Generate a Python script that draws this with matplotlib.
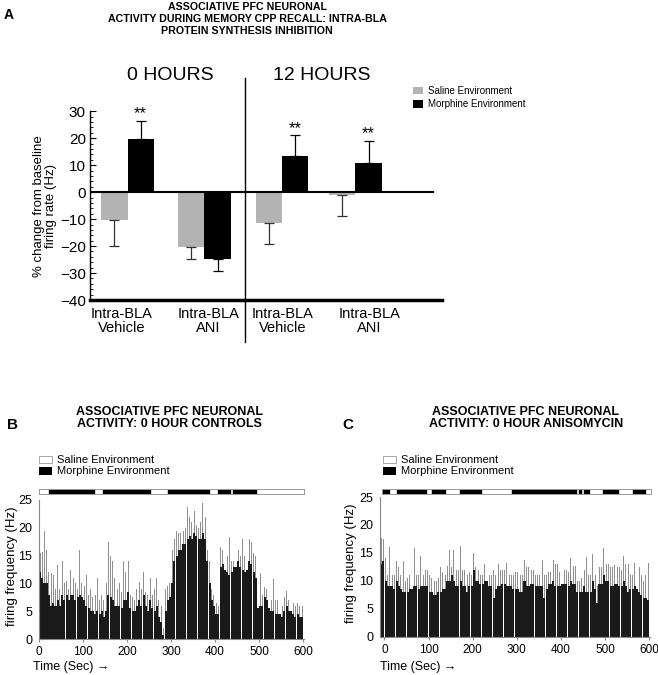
import numpy as np
import matplotlib
matplotlib.use('Agg')
import matplotlib.pyplot as plt
from matplotlib.patches import Rectangle
from matplotlib.lines import Line2D

W, H = 658, 675
plt.rcParams['font.family'] = ['Liberation Sans Narrow', 'Liberation Sans', 'DejaVu Sans']

# ---- panel A: % change from baseline firing rate
groups = ['Intra-BLA\nVehicle', 'Intra-BLA\nANI', 'Intra-BLA\nVehicle', 'Intra-BLA\nANI']
saline_mean = [-10.5, -20.4, -11.4, -0.9]
saline_err = [9.5, 4.3, 7.9, 8.1]
morphine_mean = [19.8, -24.8, 13.6, 10.7]
morphine_err = [6.7, 4.4, 7.5, 8.4]
signif = ['**', '', '**', '**']

# ---- panel B: 0 hour controls, 5 s bins
b_time = np.arange(0, 600, 5)
b_peak = [15.5, 15.7, 19.5, 16, 12, 11.8, 11.5, 9, 13.3, 9,
          14, 10, 10.5, 9, 12.5, 11, 10, 9, 16, 10,
          9.5, 11.5, 8, 9, 7.5, 8, 11, 7, 8, 7,
          10, 17.5, 15, 14, 11, 9, 10, 8.5, 14, 12,
          14, 8, 7.5, 7, 9, 10.3, 9, 12, 8.5, 8,
          11, 8, 9, 11, 7, 6, 2, 9, 9.5, 10,
          16, 18, 19.5, 19, 19, 19.5, 20, 23.8, 22, 21,
          23, 20.5, 20, 21, 24.4, 22, 16, 14, 9, 8,
          6.5, 6, 16.5, 16, 15.5, 15, 18.4, 14, 14, 22.6,
          16, 15, 18, 15, 15, 18, 17.5, 15.5, 15, 7,
          11.8, 8, 9.4, 9, 8, 7, 10.8, 7, 7, 6.5,
          6, 7.5, 8.6, 7, 7.5, 6.5, 6, 6.5, 6, 6]
b_body = [12, 11, 10, 10, 8, 6, 6.5, 6, 7, 6,
          8, 7, 8, 7, 8, 8, 7, 7.5, 8, 7.5,
          7, 6, 5.5, 5, 5, 4.5, 5, 4.5, 5, 4,
          5, 8, 7.5, 7, 6, 6, 6, 5.5, 7, 7,
          8.5, 5.5, 5, 5, 6, 7, 6, 8, 6, 5,
          7, 5.5, 5, 6, 4, 3, 0.8, 5, 7, 7.5,
          10, 14, 15, 16, 16, 17, 17, 18, 18.5, 18,
          19, 18.5, 18, 18, 19, 18, 14, 10, 7, 6,
          4.5, 4.5, 13, 13.5, 12.5, 12, 11.5, 12, 13, 13,
          14, 13, 12.5, 12, 12.5, 14, 13.5, 12, 11, 5.5,
          6, 6, 7.5, 7, 5.5, 5, 5, 4.5, 4.5, 4.5,
          4, 5, 6, 5, 5, 4.5, 4, 4.5, 4, 4]
b_morphine = [(23, 125), (145, 253), (294, 386), (406, 435), (441, 493)]

# ---- panel C: 0 hour anisomycin, 5 s bins
c_time = np.arange(-10, 600, 5)
c_peak = [17.7, 17.5, 14, 11, 16, 11, 11, 13.5, 12.5, 11,
          13.5, 10, 10.5, 11, 11, 15.8, 11, 11, 14.4, 11,
          12, 12, 11, 10.5, 10, 10, 10.5, 12.5, 11.5, 11,
          12.7, 15.6, 12.5, 15.6, 12, 12, 16.2, 12, 12, 11,
          11.5, 11, 15, 12.5, 12, 11, 11, 13, 13, 11,
          11, 12, 11, 13, 12, 12, 12, 13.2, 11, 11,
          11, 11.5, 11.5, 11, 11, 13.8, 12.5, 12.5, 12, 12,
          11, 11, 11, 13.7, 11, 11, 11.5, 11.5, 13.8, 13,
          13, 11.5, 13.5, 12, 12, 11.5, 14.1, 12.7, 12.7, 10,
          10, 10.5, 12, 14.3, 11, 11, 14.8, 11, 9, 12.5,
          12.5, 15.9, 13, 13, 12.5, 12.5, 12.8, 12.5, 12.5, 12,
          14.5, 13, 13, 11, 11, 13.1, 12.5, 12.5, 11, 10,
          11, 13.2]
c_body = [13, 13.5, 10, 9, 9, 9, 8.5, 10, 9, 8.5,
          8, 8, 8, 8.5, 8.5, 9, 9, 8.5, 9, 9,
          9, 9, 8, 8, 7.5, 7.5, 8, 8, 8.5, 8.5,
          10, 10, 11, 10, 9, 9, 10, 9, 9, 8,
          9, 9, 12, 10, 10, 9.5, 9.5, 10, 10, 9,
          9, 7, 8.5, 9, 9, 9.5, 9.5, 9, 9, 9,
          8.5, 8.5, 8.5, 8, 8, 10, 9, 9, 9.5, 9.5,
          9, 9, 9, 9, 7, 8.5, 9.5, 9.5, 10, 9,
          9, 9, 9.5, 9.5, 9.5, 9, 10, 9.5, 9.5, 8,
          8, 8, 9, 8, 8, 8, 10, 8.5, 6, 9.5,
          9.5, 11, 10, 10, 9, 9, 9.5, 9.5, 9, 9,
          10, 9, 8, 8.5, 8.5, 9, 8.5, 8, 7.5, 7,
          7, 6.5]
c_morphine = [(-8, 10), (29, 95), (108, 138), (172, 218), (289, 434),
              (440, 446), (453, 463), (495, 530), (563, 591)]
env_labels = ['Saline Environment', 'Morphine Environment']

fig = plt.figure(figsize=(W / 100, H / 100), dpi=100)


def ftext(x, y, s, **kw):
    kw.setdefault('ha', 'center')
    kw.setdefault('va', 'center')
    return fig.text(x / W, 1 - y / H, s, **kw)


def fbox(x, y, w, h, fc, ec='none'):
    fig.add_artist(Rectangle((x / W, 1 - (y + h) / H), w / W, h / H,
                             transform=fig.transFigure, fc=fc, ec=ec, lw=0.6))


# ================= panel A =================
ax = fig.add_axes([90 / W, 1 - 300 / H, 351.7 / W, 188.7 / H])
pair_pos = np.array([1.39, 4.23, 7.10, 9.81])
bw = 0.97
sal = np.array(saline_mean)
mor = np.array(morphine_mean)
ax.bar(pair_pos - bw / 2, sal, bw, color='#b3b3b3', lw=0)
ax.bar(pair_pos + bw / 2, mor, bw, color='black', lw=0)
for x, m, e, c in [(pair_pos - bw / 2, sal, saline_err, '#333333'),
                   (pair_pos + bw / 2, mor, morphine_err, 'black')]:
    e = np.array(e)
    lo = np.where(m < 0, e, 0)
    up = np.where(m > 0, e, 0)
    ax.errorbar(x, m, yerr=[lo, up], fmt='none', ecolor=c, elinewidth=0.9,
                capsize=3.5, capthick=0.9)
for x, m, e, s in zip(pair_pos + bw / 2, mor, morphine_err, signif):
    if s:
        ax.text(x, m + e + 0.8, s, ha='center', va='baseline', fontsize=12)

ax.axhline(0, xmax=(432.7 - 90) / 351.7, color='black', lw=1.5)
ax.set_xlim(0, 13)
ax.set_ylim(-40, 30)
ax.spines[['top', 'right']].set_visible(False)
ax.spines['left'].set_linewidth(1.0)
ax.spines['bottom'].set_linewidth(2.5)
ax.set_yticks(np.arange(-40, 31, 10))
ax.set_yticks(np.arange(-40, 31, 2), minor=True)
ax.tick_params(axis='y', which='major', direction='in', length=4, width=0.8,
               labelsize=11, pad=3)
ax.tick_params(axis='y', which='minor', direction='in', length=2.5, width=0.6)
ax.set_xticks([1.17, 4.37, 7.12, 10.33])
ax.set_xticklabels(groups, fontsize=10.5, linespacing=1.05)
ax.tick_params(axis='x', length=0, pad=5)

fig.add_artist(Line2D([245 / W, 245 / W], [1 - 78 / H, 1 - 342 / H],
                      transform=fig.transFigure, color='black', lw=1))
ftext(247, 19, 'ASSOCIATIVE PFC NEURONAL\nACTIVITY DURING MEMORY CPP RECALL: INTRA-BLA\n'
      'PROTEIN SYNTHESIS INHIBITION', fontsize=7.7, weight='bold', linespacing=1.25)
ftext(9, 15, 'A', fontsize=10, weight='bold')
ftext(170, 76, '0 HOURS', fontsize=14)
ftext(322, 76, '12 HOURS', fontsize=14)
ftext(45, 206, '% change from baseline\nfiring rate (Hz)', fontsize=9.5,
      rotation=90, linespacing=0.95)
fbox(413, 87, 10, 7, '#b3b3b3')
fbox(413, 100, 10, 8, 'black')
ftext(428, 91, env_labels[0], fontsize=7, ha='left')
ftext(428, 104, env_labels[1], fontsize=7, ha='left')


# ================= panels B and C =================
def trace(rect, env_rect, times, peak, body, morph, xlim, env_lim):
    a = fig.add_axes(rect)
    t = times + 2.5
    a.bar(t, peak, width=2.2, color='#8f8f8f', lw=0)
    a.bar(t, body, width=4.6, color='#1a1a1a', lw=0)
    a.set_xlim(*xlim)
    a.set_ylim(0, 25)
    a.spines[['top', 'right']].set_visible(False)
    for s in ['left', 'bottom']:
        a.spines[s].set_color('#888888')
        a.spines[s].set_linewidth(0.8)
    a.set_yticks(np.arange(0, 26, 5))
    a.set_xticks(np.arange(0, 601, 100))
    a.tick_params(axis='y', length=0, labelsize=9, pad=5)
    a.tick_params(axis='x', length=2, color='#888888', labelsize=8.5, pad=3)

    e = fig.add_axes(env_rect)
    e.broken_barh([(s, f - s) for s, f in morph], (0, 1), color='black')
    e.set_xlim(*env_lim)
    e.set_ylim(0, 1)
    e.set_xticks([])
    e.set_yticks([])
    for s in e.spines.values():
        s.set_color('#999999')
        s.set_linewidth(0.7)
    return a


trace([39 / W, 1 - 639 / H, 265 / W, 139 / H], [39 / W, 1 - 494 / H, 265 / W, 5 / H],
      b_time, b_peak, b_body, b_morphine, (0, 602), (0, 602))
trace([380 / W, 1 - 636.7 / H, 270 / W, 139.7 / H], [382 / W, 1 - 494 / H, 269 / W, 5 / H],
      c_time, c_peak, c_body, c_morphine, (-10, 602), (-5, 604))

for x0, lab, sub, cx in [(12, 'B', 'CONTROLS', 169), (348, 'C', 'ANISOMYCIN', 526)]:
    ftext(x0, 425, lab, fontsize=11, weight='bold')
    ftext(cx, 418, 'ASSOCIATIVE PFC NEURONAL\nACTIVITY: 0 HOUR ' + sub, fontsize=9,
          weight='bold', linespacing=1.1)

ftext(12, 566, 'firing frequency (Hz)', fontsize=9.5, rotation=90)
ftext(351, 563, 'firing frequency (Hz)', fontsize=9.5, rotation=90)
ftext(33, 667, 'Time (Sec) \u2192', fontsize=9, ha='left')
ftext(380, 667, 'Time (Sec) \u2192', fontsize=9, ha='left')

for bx in [39, 383]:
    fbox(bx, 456, 13, 7, 'white', '#999999')
    fbox(bx, 467, 13, 8, 'black')
    ftext(bx + 18, 460, env_labels[0], fontsize=8, ha='left')
    ftext(bx + 18, 471.5, env_labels[1], fontsize=8, ha='left')

fig.savefig('out.png', dpi=100)
